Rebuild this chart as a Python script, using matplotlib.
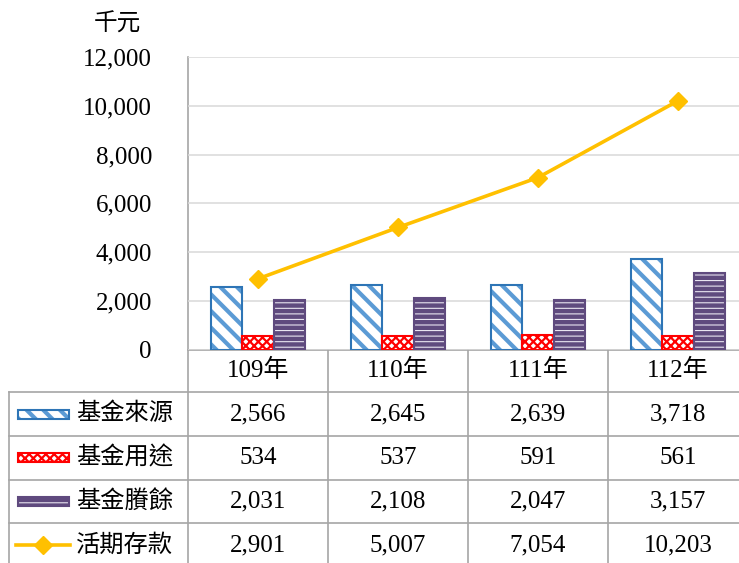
import matplotlib
matplotlib.use("Agg")
import matplotlib.pyplot as plt
from matplotlib.patches import Rectangle
from matplotlib.lines import Line2D

# ---- data ----
categories = ["109年", "110年", "111年", "112年"]
fund_source = [2566, 2645, 2639, 3718]      # 基金來源
fund_use = [534, 537, 591, 561]             # 基金用途
fund_surplus = [2031, 2108, 2047, 3157]     # 基金賸餘
demand_deposit = [2901, 5007, 7054, 10203]  # 活期存款
series_names = ["基金來源", "基金用途", "基金賸餘", "活期存款"]
y_ticks = [0, 2000, 4000, 6000, 8000, 10000, 12000]
unit_label = "千元"

plt.rcParams['font.family'] = ['Liberation Serif', 'Noto Sans CJK TC', 'DejaVu Sans']
plt.rcParams['hatch.linewidth'] = 2.5

W, H = 739, 563
fig = plt.figure(figsize=(W / 100, H / 100), dpi=100)
fig.patch.set_facecolor('white')

FS = 18
GRID = '#D9D9D9'
TLINE = '#A6A6A6'

px_left, px_right = 188, 748
px_top, px_bottom = 57, 349.5
row_lines = [392, 436, 479.5, 523, 567]
leg_left = 9

ov = fig.add_axes([0, 0, 1, 1], zorder=0)
ov.set_xlim(0, W)
ov.set_ylim(H, 0)
ov.axis('off')

ax = fig.add_axes([px_left / W, (H - px_bottom) / H, (px_right - px_left) / W,
                   (px_bottom - px_top) / H], zorder=1)
ax.patch.set_visible(False)
n = len(categories)
x = list(range(n))
ax.set_xlim(-0.5, n - 0.5)
ax.set_ylim(0, 12000)
for s in ax.spines.values():
    s.set_visible(False)
ax.set_xticks([])
ax.set_yticks(y_ticks)
ax.set_yticklabels([f"{v:,}" for v in y_ticks], fontsize=FS)
ax.tick_params(axis='y', length=0, pad=26)
ax.yaxis.grid(True, color=GRID, linewidth=1.1)
ax.set_axisbelow(True)

bw = 0.225
styles = [
    dict(face='white', hatch='\\\\', hcol='#5B9BD5', edge='#2E75B6', hlw=3.0),
    dict(face='white', hatch='xxxx', hcol='#FF0000', edge='#FF0000', hlw=1.6),
    dict(face='#5F4A7E', hatch='---', hcol='#E8E4F0', edge='#5F4A7E', hlw=0.8),
]


def set_hlw(patch, lw):
    if hasattr(patch, 'set_hatch_linewidth'):
        patch.set_hatch_linewidth(lw)


bar_series = [fund_source, fund_use, fund_surplus]
offsets = [-bw, 0, bw]
for vals, off, st in zip(bar_series, offsets, styles):
    xs = [xi + off for xi in x]
    ax.bar(xs, vals, bw, color=st['face'], linewidth=0, zorder=2)
    with plt.rc_context({'hatch.linewidth': st['hlw']}):
        bars = ax.bar(xs, vals, bw, facecolor='none', edgecolor=st['hcol'],
                      hatch=st['hatch'], linewidth=0, zorder=3)
    for b in bars:
        set_hlw(b, st['hlw'])
    ax.bar(xs, vals, bw, facecolor='none', edgecolor=st['edge'], linewidth=1.5, zorder=4)

ax.plot(x, demand_deposit, color='#FFC000', linewidth=2.6, marker='D',
        markersize=9, zorder=5)

ov.text(117, 25, unit_label, fontsize=FS - 1, ha='center', va='center')

# ---- data table ----
col_w = (px_right - px_left) / n
ov.plot([px_left, px_right], [px_bottom, px_bottom], color=TLINE, lw=1.2)
for yl in row_lines[:-1]:
    ov.plot([leg_left, px_right], [yl, yl], color=TLINE, lw=1.2)
ov.plot([leg_left, leg_left], [row_lines[0], H], color=TLINE, lw=1.2)
ov.plot([px_left, px_left], [px_top, H], color=TLINE, lw=1.2)
for i in range(1, n):
    xv = px_left + col_w * i
    ov.plot([xv, xv], [px_bottom, H], color=TLINE, lw=1.2)

hy = (px_bottom + row_lines[0]) / 2
for i, c in enumerate(categories):
    ov.text(px_left + col_w * (i + 0.5), hy, c, fontsize=FS, ha='center', va='center')

table_series = [fund_source, fund_use, fund_surplus, demand_deposit]
for r, (name, vals) in enumerate(zip(series_names, table_series)):
    cy = (row_lines[r] + row_lines[r + 1]) / 2
    if r < 3:
        st = styles[r]
        ov.add_patch(Rectangle((18, cy - 4.5), 51, 9, facecolor=st['face'], linewidth=0))
        with plt.rc_context({'hatch.linewidth': st['hlw']}):
            hp = Rectangle((18, cy - 4.5), 51, 9, facecolor='none',
                           edgecolor=st['hcol'], hatch=st['hatch'], linewidth=0)
        set_hlw(hp, st['hlw'])
        ov.add_patch(hp)
        ov.add_patch(Rectangle((18, cy - 4.5), 51, 9, facecolor='none',
                               edgecolor=st['edge'], linewidth=1.5))
    else:
        ov.add_line(Line2D([16, 70], [cy, cy], color='#FFC000', lw=2.6))
        ov.add_line(Line2D([43], [cy], color='#FFC000', marker='D', markersize=9))
    ov.text(76, cy, name, fontsize=FS - 0.5, ha='left', va='center')
    for i, v in enumerate(vals):
        ov.text(px_left + col_w * (i + 0.5), cy, f"{v:,}", fontsize=FS,
                ha='center', va='center')

fig.savefig("out.png", dpi=100)
